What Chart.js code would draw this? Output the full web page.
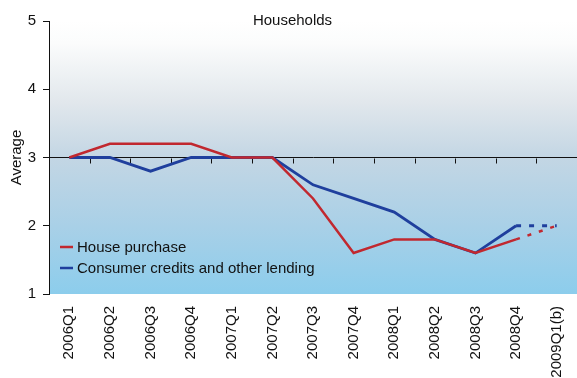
<!DOCTYPE html>
<html>
<head>
<meta charset="utf-8">
<script src="https://cdn.jsdelivr.net/npm/chart.js@4"></script>
<style>
  html, body { margin: 0; padding: 0; background: #fff; }
  #wrap { width: 577px; height: 378px; position: relative; }
</style>
</head>
<body>
<div id="wrap"><canvas id="myChart"></canvas></div>
<script>
const quarters = ['2006Q1', '2006Q2', '2006Q3', '2006Q4', '2007Q1', '2007Q2', '2007Q3',
  '2007Q4', '2008Q1', '2008Q2', '2008Q3', '2008Q4', '2009Q1(b)']
const housePurchase = [3, 3.2, 3.2, 3.2, 3, 3, 2.4, 1.6, 1.8, 1.8, 1.6, 1.8, 2.0]
const consumerCredit = [3, 3, 2.8, 3, 3, 3, 2.6, 2.4, 2.2, 1.8, 1.6, 2.0, 2.0]
const yTicks = [1, 2, 3, 4, 5]
const baseLine = 3
// last point is the expectation, drawn dashed
const expectedIdx = quarters.indexOf('2009Q1(b)')

const FONT = '"Liberation Sans", Arial, sans-serif'

// shaded plot background
const bgPlugin = {
  id: 'bg',
  beforeDraw(chart) {
    const { ctx, chartArea: a } = chart
    const g = ctx.createLinearGradient(0, a.top, 0, a.bottom)
    g.addColorStop(0, '#ffffff')
    g.addColorStop(0.08, '#fbfcfc')
    g.addColorStop(0.3, '#e1e7ec')
    g.addColorStop(0.5, '#c3d6e4')
    g.addColorStop(0.75, '#a9d0e7')
    g.addColorStop(1, '#8ccdec')
    ctx.save()
    ctx.fillStyle = g
    ctx.fillRect(a.left, a.top, a.right - a.left, a.bottom - a.top)
    ctx.restore()
  },
  beforeDatasetsDraw(chart) {
    // small tick marks under the line at 3, between quarters
    const { ctx, scales: { x, y } } = chart
    const yy = Math.round(y.getPixelForValue(baseLine)) + 0.5
    ctx.save()
    ctx.strokeStyle = '#111'
    ctx.lineWidth = 1
    ctx.beginPath()
    for (let i = 0; i < quarters.length - 1; i++) {
      const xx = Math.round((x.getPixelForValue(i) + x.getPixelForValue(i + 1)) / 2) + 0.5
      ctx.moveTo(xx, yy)
      ctx.lineTo(xx, yy + 5)
    }
    ctx.stroke()
    ctx.restore()
  },
  afterDraw(chart) {
    const { ctx, chartArea: a } = chart
    ctx.save()
    ctx.font = '15px ' + FONT
    ctx.fillStyle = '#111'
    ctx.textAlign = 'center'
    ctx.textBaseline = 'middle'
    ctx.fillText('Households', chart.width / 2 + 4, a.top)

    // legend in the lower left corner
    chart.data.datasets.forEach((ds, i) => {
      const ly = a.bottom - 47 + i * 21
      ctx.strokeStyle = ds.borderColor
      ctx.lineWidth = 2.5
      ctx.beginPath()
      ctx.moveTo(a.left + 11, ly)
      ctx.lineTo(a.left + 24, ly)
      ctx.stroke()
      ctx.textAlign = 'left'
      ctx.fillText(ds.label, a.left + 28, ly + 1)
    })
    ctx.restore()
  }
}

const dashed = (pattern) => ({
  borderDash: ctx => ctx.p1DataIndex === expectedIdx ? pattern : undefined
})

new Chart(document.getElementById('myChart'), {
  type: 'line',
  data: {
    labels: quarters,
    datasets: [
      {
        label: 'House purchase',
        data: housePurchase,
        borderColor: '#c1282f',
        borderWidth: 2.5,
        pointRadius: 0,
        segment: dashed([4, 8])
      },
      {
        label: 'Consumer credits and other lending',
        data: consumerCredit,
        borderColor: '#1f3f9d',
        borderWidth: 2.8,
        pointRadius: 0,
        segment: dashed([5, 8])
      }
    ]
  },
  options: {
    responsive: true,
    maintainAspectRatio: false,
    animation: false,
    layout: { padding: { top: 21, right: 0, left: 0, bottom: 0 } },
    plugins: {
      legend: { display: false },
      tooltip: { enabled: false }
    },
    scales: {
      x: {
        offset: true,
        grid: { display: false, drawTicks: false },
        border: { display: false },
        ticks: {
          minRotation: 90,
          maxRotation: 90,
          padding: 12,
          color: '#111',
          font: { family: FONT, size: 15 }
        },
        afterFit(s) {
          s.height = 84
          s.paddingLeft = 0
          s.paddingRight = 0
        }
      },
      y: {
        min: 1,
        max: 5,
        afterBuildTicks(s) { s.ticks = yTicks.map(v => ({ value: v })) },
        grid: {
          color: c => c.tick && c.tick.value === baseLine ? '#111' : 'rgba(0,0,0,0)',
          tickColor: '#111',
          tickLength: 6
        },
        border: { display: true, color: '#111', width: 1 },
        ticks: {
          padding: 7,
          color: '#111',
          font: { family: FONT, size: 15 }
        },
        title: {
          display: true,
          text: 'Average',
          color: '#111',
          font: { family: FONT, size: 15 },
          padding: { top: 8, bottom: 0 }
        },
        afterFit(s) {
          s.width = 49
          s.paddingTop = 0
          s.paddingBottom = 0
        }
      }
    }
  },
  plugins: [bgPlugin]
})
</script>
</body>
</html>
